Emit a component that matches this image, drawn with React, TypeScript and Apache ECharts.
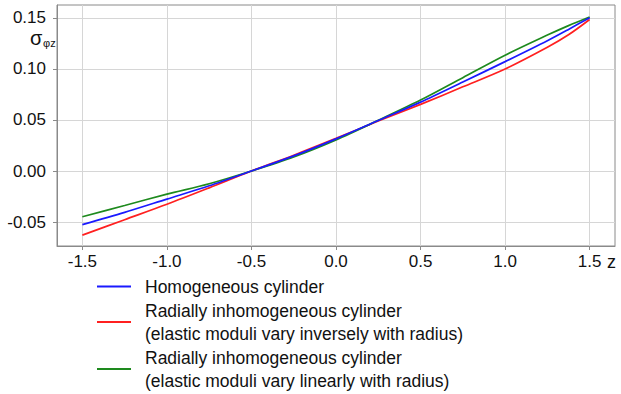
import React, { useEffect, useRef } from 'react';
import * as echarts from 'echarts';

const zValues = [-1.5, -1.25, -1.0, -0.75, -0.5, -0.25, 0, 0.25, 0.5, 0.75, 1.0, 1.25, 1.375, 1.5];
const homogeneous = [-0.0525, -0.0405, -0.0275, -0.0145, 0, 0.0148, 0.0315, 0.0495, 0.0675, 0.0872, 0.1072, 0.1277, 0.1388, 0.1503];
const inverse = [-0.0628, -0.0477, -0.0326, -0.0165, 0, 0.0155, 0.032, 0.049, 0.0653, 0.0825, 0.1, 0.1213, 0.1335, 0.1485];
const linear = [-0.0448, -0.0338, -0.0227, -0.0125, 0, 0.0138, 0.0305, 0.0497, 0.0695, 0.0915, 0.1135, 0.1332, 0.1425, 0.151];

const xTicks = [-1.5, -1.0, -0.5, 0, 0.5, 1.0, 1.5];
const yTicks = [-0.05, 0, 0.05, 0.1, 0.15];

const seriesNames = [
  'Homogeneous cylinder',
  'Radially inhomogeneous cylinder\n(elastic moduli vary inversely with radius)',
  'Radially inhomogeneous cylinder\n(elastic moduli vary linearly with radius)',
];
const seriesColors = ['#1a1aff', '#ff2020', '#1e8a1e'];
const seriesValues = [homogeneous, inverse, linear];

const FONT = "'Liberation Sans', Arial, sans-serif";

export default function App() {
  const ref = useRef<HTMLDivElement>(null);
  useEffect(() => {
    if (!ref.current) return;
    const chart = echarts.init(ref.current, null, { renderer: 'svg' });
    chart.setOption({
      animation: false,
      textStyle: { fontFamily: FONT },
      grid: {
        left: 57,
        right: 6,
        top: 5,
        bottom: 148,
        show: true,
        borderColor: '#8a8a8a',
        borderWidth: 1,
        backgroundColor: 'transparent',
      },
      xAxis: {
        type: 'value',
        min: -1.65,
        max: 1.65,
        axisLine: { show: true, onZero: false, lineStyle: { color: '#8a8a8a', width: 1 } },
        axisTick: { show: true, length: 4, customValues: xTicks, lineStyle: { color: '#8a8a8a' } },
        axisLabel: {
          customValues: xTicks,
          formatter: (v: number) => v.toFixed(1),
          color: '#111',
          fontFamily: FONT,
          fontSize: 17,
          margin: 7,
        },
        splitLine: { show: true, lineStyle: { color: '#d6d6d6', width: 1 } },
      },
      yAxis: {
        type: 'value',
        min: -0.0735,
        max: 0.1627,
        axisLine: { show: true, onZero: false, lineStyle: { color: '#8a8a8a', width: 1 } },
        axisTick: { show: true, length: 4, customValues: yTicks, lineStyle: { color: '#8a8a8a' } },
        axisLabel: {
          customValues: yTicks,
          formatter: (v: number) => v.toFixed(2),
          color: '#111',
          fontFamily: FONT,
          fontSize: 17,
          margin: 11,
        },
        splitLine: { show: true, lineStyle: { color: '#d6d6d6', width: 1 } },
      },
      legend: {
        orient: 'vertical',
        left: 97,
        top: 275,
        height: 200,
        padding: 0,
        itemGap: 1,
        itemWidth: 34,
        itemHeight: 2,
        icon: 'rect',
        data: seriesNames,
        textStyle: {
          fontFamily: FONT,
          fontSize: 17.5,
          lineHeight: 23,
          color: '#111',
          padding: [0, 0, 0, 9],
        },
      },
      graphic: [
        {
          type: 'text',
          x: 30,
          y: 38,
          style: { text: 'σ', fontFamily: FONT, fontSize: 20, fill: '#111', verticalAlign: 'middle', align: 'left' },
        },
        {
          type: 'text',
          x: 43,
          y: 43,
          style: { text: 'φz', fontFamily: FONT, fontSize: 11, fill: '#111', verticalAlign: 'middle', align: 'left' },
        },
        {
          type: 'text',
          x: 607,
          y: 262,
          style: { text: 'z', fontFamily: FONT, fontSize: 18, fill: '#111', verticalAlign: 'middle', align: 'left' },
        },
      ],
      series: seriesValues.map((vals, i) => ({
        name: seriesNames[i],
        type: 'line',
        data: zValues.map((z, j) => [z, vals[j]]),
        showSymbol: false,
        symbol: 'none',
        smooth: 0.3,
        lineStyle: { color: seriesColors[i], width: 1.7 },
        itemStyle: { color: seriesColors[i] },
        z: i === 2 ? 3 : i === 1 ? 2 : 4,
      })),
    });
    return () => chart.dispose();
  }, []);
  return <div ref={ref} style={{ position: 'absolute', left: 0, top: 0, width: 621, height: 394 }} />;
}
